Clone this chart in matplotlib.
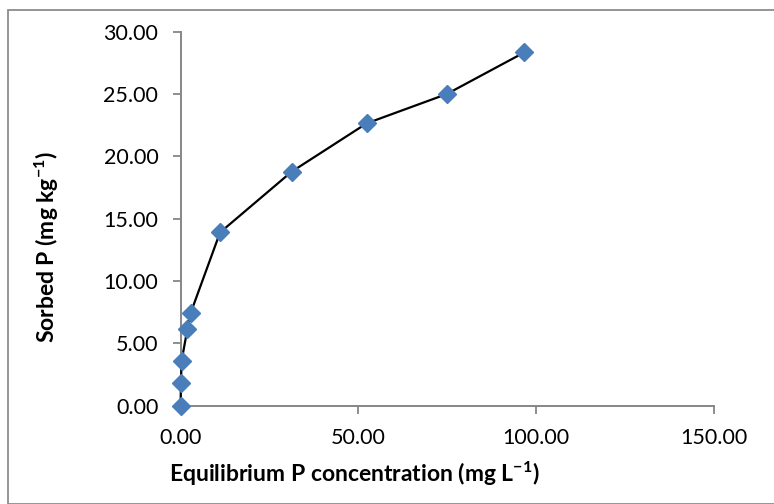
import matplotlib
matplotlib.use("Agg")
import matplotlib.pyplot as plt
from matplotlib.patches import Rectangle

# Equilibrium P concentration (mg/L) vs sorbed P (mg/kg)
conc = [0.0, 0.1, 0.3, 1.9, 2.8, 11.1, 31.2, 52.3, 74.8, 96.6]
sorbed = [0.0, 1.80, 3.61, 6.13, 7.41, 13.90, 18.77, 22.65, 25.00, 28.34]

x_ticks = [0, 50, 100, 150]
y_ticks = [0, 5, 10, 15, 20, 25, 30]

plt.rcParams["font.family"] = ["Lato", "DejaVu Sans"]
plt.rcParams["mathtext.fontset"] = "custom"
plt.rcParams["mathtext.rm"] = "Lato"
plt.rcParams["mathtext.bf"] = "Lato:bold"
plt.rcParams["mathtext.default"] = "bf"

fig = plt.figure(figsize=(7.74, 5.04), dpi=100)
fig.patch.set_facecolor("white")

# outer chart-area frame
fig.patches.append(Rectangle((8 / 774, 0.0), 1.0, 1 - 10 / 504, transform=fig.transFigure,
                             facecolor="none", edgecolor="#8c8c8c", linewidth=1.3))

ax = fig.add_axes([0.2333, 0.195, 0.6894, 0.742])

ax.plot(conc, sorbed, color="black", linewidth=1.6, marker="D", markersize=9,
        markerfacecolor="#4a7ebb", markeredgecolor="#4a7ebb", zorder=3, clip_on=False)

ax.set_xlim(0, 150)
ax.set_ylim(0, 30)
ax.set_xticks(x_ticks)
ax.set_yticks(y_ticks)
ax.set_xticklabels([f"{v:.2f}" for v in x_ticks])
ax.set_yticklabels([f"{v:.2f}" for v in y_ticks])

for side in ("top", "right"):
    ax.spines[side].set_visible(False)
for side in ("left", "bottom"):
    ax.spines[side].set_color("#868686")
    ax.spines[side].set_linewidth(1.4)

ax.tick_params(axis="both", direction="out", length=6, width=1.3, color="#868686",
               labelsize=15.5, labelcolor="black")
ax.tick_params(axis="x", pad=10)
ax.tick_params(axis="y", pad=10)

# axis titles placed like the original (x title sits left of axis centre)
fig.text(354 / 774, 1 - 474 / 504, "Equilibrium P concentration (mg L$^{-1}$)",
         fontsize=16.5, fontweight="bold", ha="center", va="center")
fig.text(47 / 774, 1 - 247 / 504, "Sorbed P (mg kg$^{-1}$)", rotation=90,
         fontsize=16.5, fontweight="bold", ha="center", va="center")

fig.savefig("out.png", dpi=100, facecolor=fig.get_facecolor())
